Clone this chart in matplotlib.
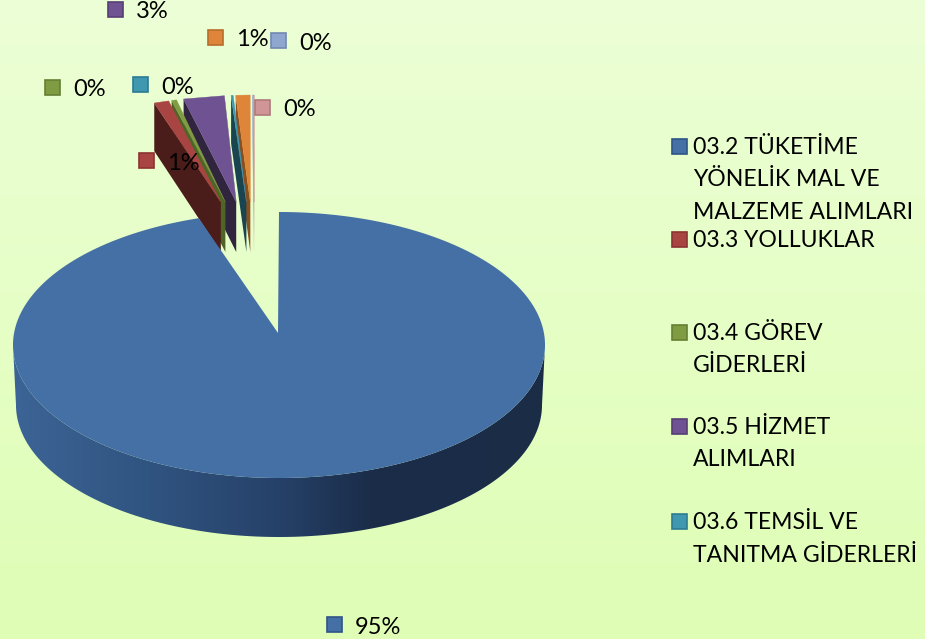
import numpy as np
import matplotlib
matplotlib.use("Agg")
import matplotlib.pyplot as plt
from matplotlib.patches import Rectangle, Polygon

# shares (labels only give rounded values)
values = [95.1, 0.9, 0.3, 2.55, 0.13, 0.9, 0.04, 0.06]
pct_labels = ["95%", "1%", "0%", "3%", "0%", "1%", "0%", "0%"]
face_colors = ["#4570A6", "#A84543", "#7F9C42", "#6E5291", "#3F98B0", "#DE8539", "#8FA6CF", "#D09596"]
side_colors = ["#1F3655", "#4A1C1A", "#4F6526", "#30243F", "#1A4450", "#8A4F1E", "#9AA6BC", "#B8A0A0"]
edge_colors = ["#2F5487", "#8C3331", "#667F33", "#573F75", "#2C7C93", "#B86D2A", "#7288B0", "#B07A7B"]
legend_labels = ["03.2 TÜKETİME\nYÖNELİK MAL VE\nMALZEME ALIMLARI", "03.3 YOLLUKLAR",
                 "03.4 GÖREV\nGİDERLERİ", "03.5 HİZMET\nALIMLARI", "03.6 TEMSİL VE\nTANITMA GİDERLERİ"]
legend_y = [146, 239, 332, 426, 521]

# where the data labels sit: marker x, marker y
label_pos = [(334, 624), (146, 160), (52, 87), (115, 9), (140, 84), (215, 37), (278, 40), (262, 107)]

plt.rcParams["font.family"] = ["Lato", "DejaVu Sans"]

fig = plt.figure(figsize=(9.25, 6.39), dpi=100)
ax = fig.add_axes([0, 0, 1, 1])

# background gradient
top = np.array([0.925, 1.0, 0.84])
bot = np.array([0.875, 0.995, 0.71])
grad = np.linspace(0, 1, 256)[:, None, None] * (bot - top) + top
ax.imshow(grad, extent=[0, 925, 639, 0], aspect="auto", zorder=0)

total = sum(values)
pct = [v / total * 100 for v in values]

# small slices are pulled out and fan away from the pie, drawn right to left
x0 = 254.5
cum = 0.0
for i in range(len(values) - 1, 0, -1):
    w = pct[i]
    c = cum + w / 2
    cum += w
    apex_x = x0 - 7.6 * c
    xl = x0 - 21.0 * c - 8.0 * w
    xr = x0 - 21.0 * c + 8.0 * w
    yl = 95 + 8 * ((x0 - xl) / 100) ** 2
    yr = 95 + 8 * ((x0 - xr) / 100) ** 2
    apex_y = 202
    z = 2 + (8 - i) * 0.01
    ax.fill([xl, apex_x, apex_x, xl], [yl, apex_y, apex_y + 50, yl + 48],
            color=side_colors[i], lw=0, zorder=z)
    ax.fill([xl, xr, apex_x], [yl, yr, apex_y], color=face_colors[i], lw=0.3, zorder=z + 0.001)

# main slice
cx, cy, rx, ry = 279, 345, 266, 133
bx, by, brx, bry = 279, 405, 263, 132
t_end = pct[0] / 100 * 2 * np.pi
t = np.linspace(0, t_end, 600)
ex = cx + rx * np.sin(t)
ey = cy - ry * np.cos(t)

# outer wall, front half only, shaded left to right
t_wall = np.linspace(np.pi / 2, 3 * np.pi / 2, 300)
wall_xy = np.r_[np.c_[cx + rx * np.sin(t_wall), cy - ry * np.cos(t_wall)],
                np.c_[bx + brx * np.sin(t_wall[::-1]), by - bry * np.cos(t_wall[::-1])]]
stops_x = [13, 150, 279, 370, 545]
stops_c = np.array([[60, 100, 150], [48, 84, 128], [38, 65, 105], [27, 45, 73], [26, 44, 70]]) / 255
xs = np.linspace(13, 545, 532)
row = np.stack([np.interp(xs, stops_x, stops_c[:, k]) for k in range(3)], axis=1)[None, :, :]
wall_img = ax.imshow(row, extent=[13, 545, 540, 340], aspect="auto", zorder=3)
wall_img.set_clip_path(Polygon(wall_xy, transform=ax.transData))

ax.fill(np.r_[278, ex], np.r_[333, ey], color=face_colors[0], lw=0, zorder=4)

# data labels
for (mx, my), lab, fc, ec in zip(label_pos, pct_labels, face_colors, edge_colors):
    ax.add_patch(Rectangle((mx - 7.5, my - 7.5), 15, 15, fc=fc, ec=ec, lw=1.2, zorder=6))
    ax.text(mx + 21, my + 3, lab, fontsize=17, color="black", va="center", ha="left", zorder=7)

# legend
for y, lab, fc, ec in zip(legend_y, legend_labels, face_colors, edge_colors):
    ax.add_patch(Rectangle((671.5, y - 7.5), 15, 15, fc=fc, ec=ec, lw=1.2, zorder=6))
    for n, line in enumerate(lab.split("\n")):
        ax.text(693, y + 1.5 + n * 32.5, line, fontsize=16.6, color="black", va="center", ha="left", zorder=7)

ax.set_xlim(0, 925)
ax.set_ylim(639, 0)
ax.axis("off")

fig.savefig("out.png", dpi=100)
